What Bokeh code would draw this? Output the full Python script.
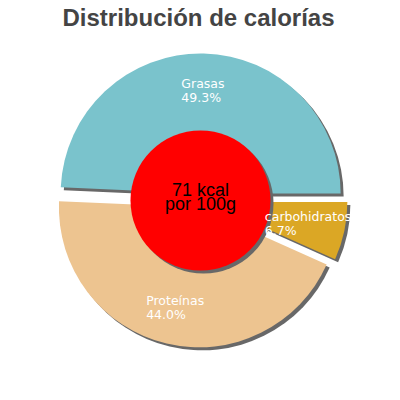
import numpy as np
from bokeh.plotting import figure
from bokeh.models import Range1d, ColumnDataSource
from bokeh.embed import file_html
from bokeh.resources import INLINE
from bokeh.core.properties import value

# ---- data ----
title_text = "Distribución de calorías"
labels = ["Grasas", "Proteínas", "carbohidratos"]
percents = [49.3, 44.0, 6.7]
colors = ["#7ac3cc", "#edc490", "#dba725"]
center_lines = ["71 kcal", "por 100g"]

# ---- layout ----
CX, CY = 200.0, 200.0
R_OUT = 140.0
R_HOLE = 70.0
EXPLODE = 7.0
LABEL_R = 103.0
SHADOW = (3.0, -3.0)
FONT = "Liberation Sans"
LABEL_FONT = "DejaVu Sans"

fracs = np.array(percents) / 100.0
ends = np.cumsum(fracs) * 2 * np.pi
starts = ends - fracs * 2 * np.pi
mids = (starts + ends) / 2
sx = CX + EXPLODE * np.cos(mids)
sy = CY + EXPLODE * np.sin(mids)
lx = sx + LABEL_R * np.cos(mids)
ly = sy + LABEL_R * np.sin(mids)
label_text = [f"{l}\n{v:.1f}%" for l, v in zip(labels, percents)]

src = ColumnDataSource(dict(x=sx, y=sy, sxs=sx + SHADOW[0], sys=sy + SHADOW[1],
                            start=starts, end=ends, color=colors,
                            lx=lx, ly=ly, text=label_text))

p = figure(width=384, height=384, x_range=Range1d(0, 384), y_range=Range1d(16, 400),
           output_backend="svg", toolbar_location=None, min_border=0,
           x_axis_location=None, y_axis_location=None)
p.outline_line_color = None
p.xgrid.visible = False
p.ygrid.visible = False
p.background_fill_color = "white"
p.border_fill_color = "white"

# shadows
p.wedge(x="sxs", y="sys", radius=R_OUT, start_angle="start", end_angle="end",
        fill_color="#686868", line_color=None, source=src)
# slices
p.wedge(x="x", y="y", radius=R_OUT, start_angle="start", end_angle="end",
        fill_color="color", line_color=None, source=src)
# hole shadow + red center
p.circle(x=[CX + SHADOW[0]], y=[CY + SHADOW[1]], radius=R_HOLE, fill_color="#686868", line_color=None)
p.circle(x=[CX], y=[CY], radius=R_HOLE, fill_color="#ff0000", line_color=None)

# slice labels
p.text(x="lx", y="ly", text="text", source=src, anchor="center", text_align="left",
       text_font=value(LABEL_FONT), text_font_size="12.5px", text_color="white",
       text_line_height=0.92)

# center text
p.text(x=[CX, CX], y=[400 - 189.0, 400 - 203.0], text=center_lines,
       text_align="center", text_baseline="middle",
       text_font=value(FONT), text_font_size="18px", text_color="black")

# title
p.text(x=[198], y=[400 - 16.7], text=[title_text], text_align="center", text_baseline="middle",
       text_font=value(FONT), text_font_size="24px", text_font_style="bold", text_color="#444444")

open("out.html", "w").write(file_html(p, INLINE))
